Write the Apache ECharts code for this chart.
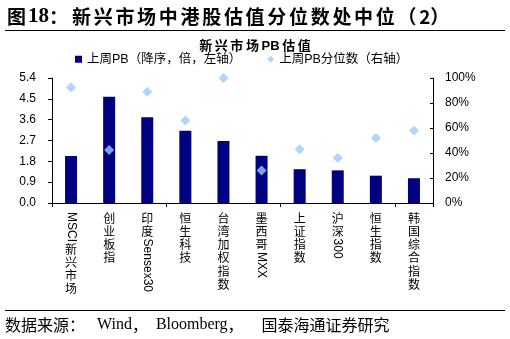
<!DOCTYPE html>
<html>
<head>
<meta charset="utf-8">
<script src="https://cdn.jsdelivr.net/npm/echarts@6/dist/echarts.min.js"></script>
<style>
  html, body { margin: 0; padding: 0; background: #fff; }
  #chart { width: 510px; height: 339px; }
</style>
</head>
<body>
<div id="chart"></div>
<script>
// Emerging-market indices, sorted by last week's PB (descending)
const categories = ['MSCI新兴市场', '创业板指', '印度Sensex30', '恒生科技', '台湾加权指数',
                    '墨西哥MXX', '上证指数', '沪深300', '恒生指数', '韩国综合指数'];
// Last week's PB (times, left axis)
const pbValues = [2.03, 4.59, 3.70, 3.12, 2.68, 2.04, 1.46, 1.41, 1.18, 1.07];
// Last week's PB percentile (%, right axis)
const pbPercentile = [92.5, 42.5, 89, 66, 100, 26, 43, 36, 52, 58];
// Axis tick labels
const leftTicks = ['0.0', '0.9', '1.8', '2.7', '3.6', '4.5', '5.4'];
const rightTicks = ['0%', '20%', '40%', '60%', '80%', '100%'];

const chart = echarts.init(document.getElementById('chart'), null, { renderer: 'canvas' });

const GRID = { left: 52, right: 77, top: 78, bottom: 136 };
const LABEL_FONT = 12;
const CJK_STEP = 13.3;
const LATIN_FAMILY = 'Liberation Sans, Arial, sans-serif';
const SERIF_FAMILY = 'Liberation Serif, Times New Roman, serif';
const CJK_FAMILY = 'Noto Sans CJK SC, sans-serif';

// Wrap each CJK character in its own fixed-width rich token (wide character pitch)
const spaced = (str, style) => str.split('').map((ch) => '{' + style + '|' + ch + '}').join('');

const figureTitle = '{g|图}{n|18}{colon|：}' + spaced('新兴市场中港股估值分位数处中位', 'c') + '{c|（}{n2|2}{c|）}';
const chartTitle = '新\u2009兴\u2009市\u2009场\u2009PB\u2009估\u2009值';
const sourceText = '{s1|数据来源：}{sl|Wind}{sc1|，}{sl|Bloomberg}{sc2|，}{s|国泰海通证券研究}';

const titleTok = (extra) => Object.assign({
  fontFamily: CJK_FAMILY, fontWeight: 'bold', fontSize: 19, color: '#000',
  lineHeight: 24, verticalAlign: 'middle'
}, extra);
const srcTok = (extra) => Object.assign({
  fontFamily: CJK_FAMILY, fontWeight: 'normal', fontSize: 16, color: '#000',
  lineHeight: 20, verticalAlign: 'middle'
}, extra);

chart.setOption({
  animation: false,
  backgroundColor: '#fff',
  title: [
    {
      text: figureTitle,
      left: 2, top: 0,
      textStyle: {
        fontWeight: 'bold',
        rich: {
          g: titleTok({ width: 21 }),
          n: titleTok({ fontFamily: SERIF_FAMILY, fontSize: 21 }),
          colon: titleTok({ width: 23 }),
          c: titleTok({ width: 21.7 }),
          n2: titleTok({ width: 11 })
        }
      }
    },
    {
      text: chartTitle,
      left: 'center', top: 33,
      textStyle: {
        fontFamily: 'Liberation Sans, Noto Sans CJK SC, sans-serif',
        fontWeight: 'bold', fontSize: 13, color: '#000', lineHeight: 16
      }
    },
    {
      text: sourceText,
      left: 0, top: 310,
      textStyle: {
        fontWeight: 'normal',
        rich: {
          s1: srcTok({ width: 92 }),
          sl: srcTok({ fontFamily: SERIF_FAMILY }),
          sc1: srcTok({ width: 24 }),
          sc2: srcTok({ width: 34 }),
          s: srcTok({})
        }
      }
    }
  ],
  legend: {
    top: 48, left: 70,
    itemGap: 26, itemWidth: 7, itemHeight: 7,
    textStyle: { fontFamily: 'Liberation Sans, Noto Sans CJK SC, sans-serif', fontSize: 12.5, color: '#000' },
    data: [
      { name: '上周PB（降序，倍，左轴）', icon: 'rect' },
      { name: '上周PB分位数（右轴）', icon: 'diamond' }
    ]
  },
  grid: GRID,
  xAxis: {
    type: 'category',
    data: categories,
    boundaryGap: true,
    axisLine: { lineStyle: { color: '#000', width: 1 } },
    axisTick: { show: true, length: 4, alignWithLabel: false, lineStyle: { color: '#000' } },
    axisLabel: { show: false }
  },
  yAxis: [
    {
      type: 'value', min: 0, max: 5.4, interval: 0.9,
      axisLine: { show: true, lineStyle: { color: '#000' } },
      axisTick: { show: true, length: 4, lineStyle: { color: '#000' } },
      splitLine: { show: false },
      axisLabel: {
        margin: 16, color: '#000', fontSize: 12, fontFamily: LATIN_FAMILY,
        formatter: (v) => leftTicks[Math.round(v / 0.9)]
      }
    },
    {
      type: 'value', min: 0, max: 100, interval: 20,
      axisLine: { show: true, lineStyle: { color: '#000' } },
      axisTick: { show: true, inside: true, length: 3, lineStyle: { color: '#000' } },
      splitLine: { show: false },
      axisLabel: {
        margin: 12, color: '#000', fontSize: 12, fontFamily: LATIN_FAMILY,
        formatter: (v) => rightTicks[Math.round(v / 20)]
      }
    }
  ],
  series: [
    {
      name: '上周PB（降序，倍，左轴）',
      type: 'bar',
      yAxisIndex: 0,
      data: pbValues,
      barWidth: 12,
      itemStyle: { color: '#000080' }
    },
    {
      name: '上周PB分位数（右轴）',
      type: 'scatter',
      yAxisIndex: 1,
      data: pbPercentile,
      symbol: 'diamond',
      symbolSize: 10,
      itemStyle: { color: '#99CCFF' },
      z: 3
    }
  ]
});

// Horizontal rules above the chart and above the source note
const rules = [
  { type: 'line', shape: { x1: 5, y1: 30.5, x2: 505, y2: 30.5 }, style: { stroke: '#000', lineWidth: 1 } },
  { type: 'line', shape: { x1: 5, y1: 310.5, x2: 505, y2: 310.5 }, style: { stroke: '#000', lineWidth: 1 } }
];

// Vertical category labels: CJK characters stacked upright, Latin/digit runs rotated 90° clockwise
const measureCtx = document.createElement('canvas').getContext('2d');
measureCtx.font = LABEL_FONT + 'px ' + LATIN_FAMILY;
const axisY = chart.convertToPixel({ yAxisIndex: 0 }, 0);
const labelElements = [];
categories.forEach((name) => {
  const cx = chart.convertToPixel({ xAxisIndex: 0 }, name);
  let y = axisY + 9;
  const runs = name.match(/[A-Za-z0-9]+|[^A-Za-z0-9]/g);
  runs.forEach((run) => {
    if (/^[A-Za-z0-9]+$/.test(run)) {
      const w = measureCtx.measureText(run).width;
      labelElements.push({
        type: 'text',
        x: cx, y: y,
        rotation: -Math.PI / 2,
        style: {
          text: run, x: 0, y: 0,
          font: LABEL_FONT + 'px ' + LATIN_FAMILY,
          fill: '#000', align: 'left', verticalAlign: 'middle'
        }
      });
      y += w + 1;
    } else {
      labelElements.push({
        type: 'text',
        x: cx, y: y,
        style: {
          text: run, x: 0, y: 0,
          font: LABEL_FONT + 'px ' + CJK_FAMILY,
          fill: '#000', align: 'center', verticalAlign: 'top'
        }
      });
      y += CJK_STEP;
    }
  });
});
chart.setOption({ graphic: rules.concat(labelElements) });
</script>
</body>
</html>
